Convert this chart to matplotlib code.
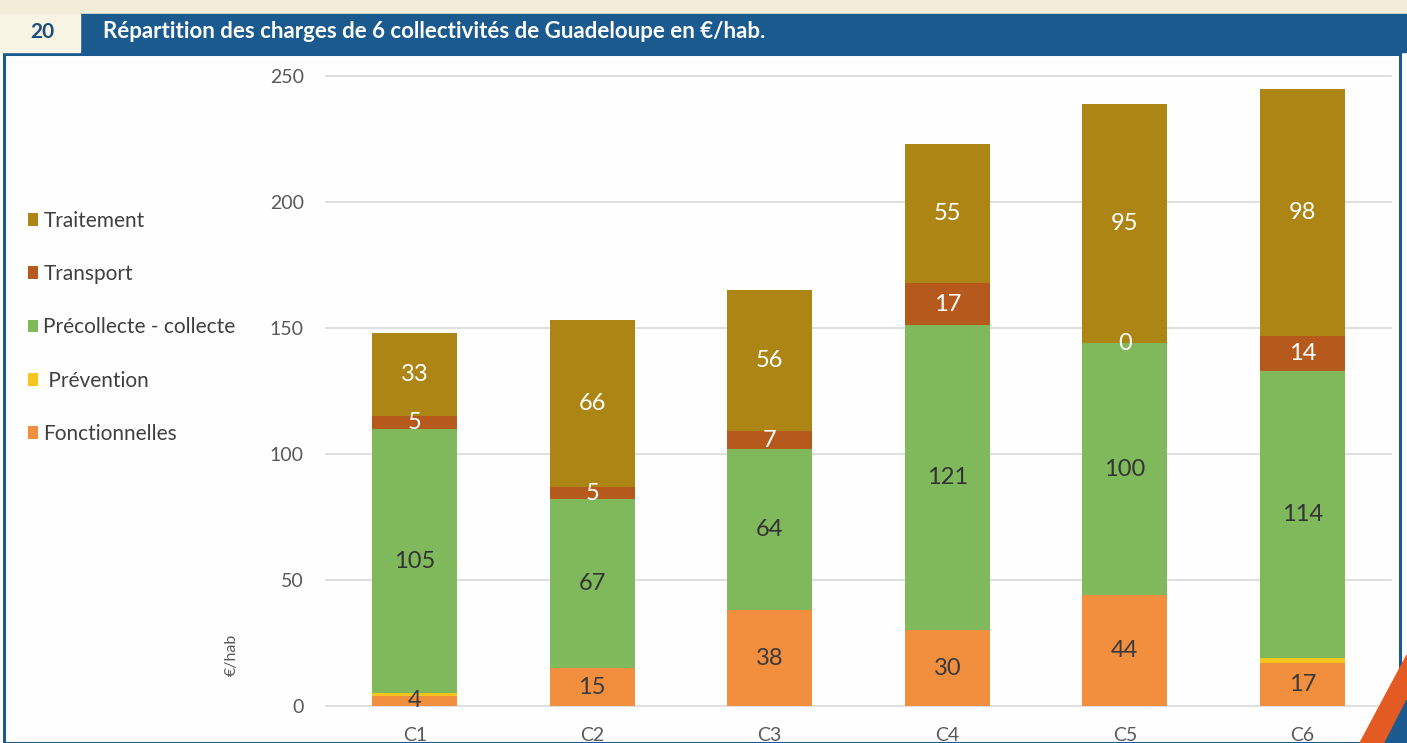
import numpy as np
import matplotlib
matplotlib.use("Agg")
import matplotlib.pyplot as plt
from matplotlib.patches import Rectangle, Polygon

# data (EUR per inhabitant)
categories = ["C1", "C2", "C3", "C4", "C5", "C6"]
fonctionnelles = [4, 15, 38, 30, 44, 17]
prevention = [1, 0, 0, 0, 0, 2]
precollecte = [105, 67, 64, 121, 100, 114]
transport = [5, 5, 7, 17, 0, 14]
traitement = [33, 66, 56, 55, 95, 98]

series_names = ["Fonctionnelles", " Prévention", "Précollecte - collecte", "Transport", "Traitement"]
series_colors = ["#F18F3F", "#F7C51C", "#80B85C", "#B55A1C", "#AD8515"]
label_colors = ["#3A3A3A", None, "#333333", "white", "white"]

W, H = 1407, 743
plt.rcParams["font.family"] = ["Lato", "DejaVu Sans"]

fig = plt.figure(figsize=(W / 100, H / 100), dpi=100)
fig.patch.set_facecolor("white")


def fx(px):
    return px / W


def fy(py):
    return 1 - py / H


# page decoration: cream strip, header band, frame
fig.patches.append(Rectangle((0, fy(52)), 1, 1 - fy(52), transform=fig.transFigure,
                             color="#F2EDD8", zorder=0))
fig.patches.append(Rectangle((fx(80), fy(52)), 1 - fx(80), fy(14) - fy(52),
                             transform=fig.transFigure, color="#1B5A8F", zorder=1))
fig.patches.append(Rectangle((0, fy(52)), fx(80), fy(14) - fy(52),
                             transform=fig.transFigure, color="#F8F4E4", zorder=1))
fig.patches.append(Rectangle((fx(4), 0), 1 - fx(11), fy(54), transform=fig.transFigure,
                             facecolor="#FEFEFE", edgecolor="#1B5A8F", lw=2.2, zorder=0))
fig.patches.append(Polygon([(fx(1360), 0), (fx(1407), fy(655)), (fx(1407), 0)],
                           closed=True, transform=fig.transFigure, color="#E35A22", zorder=3))
fig.patches.append(Polygon([(fx(1385), 0), (fx(1407), fy(700)), (fx(1407), 0)],
                           closed=True, transform=fig.transFigure, color="#1B5A8F", zorder=3))

fig.text(fx(42), fy(32), "20", color="#1B4F80", fontsize=15, fontweight="bold",
         ha="center", va="center")
fig.text(fx(103), fy(32), "Répartition des charges de 6 collectivités de Guadeloupe en €/hab.",
         color="white", fontsize=16, fontweight="bold", ha="left", va="center")

ax = fig.add_axes([fx(326), fy(706), fx(1391) - fx(326), fy(76) - fy(706)])
ax.set_facecolor("none")
ax.set_zorder(2)

x = np.arange(len(categories))
series = [fonctionnelles, prevention, precollecte, transport, traitement]
bottom = np.zeros(len(categories))
handles = []
for vals, name, col, lcol in zip(series, series_names, series_colors, label_colors):
    vals = np.array(vals, dtype=float)
    bars = ax.bar(x, vals, 0.48, bottom=bottom, color=col, label=name, zorder=3)
    handles.append(bars)
    if lcol is not None:
        for xi, b, v in zip(x, bottom, vals):
            ax.text(xi, b + v / 2, f"{int(v)}", color=lcol, fontsize=17,
                    ha="center", va="center", zorder=4)
    bottom += vals

ax.set_xlim(-0.5, 5.5)
ax.set_ylim(0, 250)
ax.set_yticks([0, 50, 100, 150, 200, 250])
ax.set_xticks(x)
ax.set_xticklabels(categories)
ax.yaxis.grid(True, color="#D9D9D9", lw=1.2, zorder=0)
ax.tick_params(axis="both", length=0, labelsize=14, labelcolor="#595959")
ax.tick_params(axis="y", pad=16)
ax.tick_params(axis="x", pad=15)
for s in ax.spines.values():
    s.set_visible(False)
for gl in ax.yaxis.get_gridlines():
    gl.set_clip_on(False)

fig.text(fx(232), fy(655), "€/hab", rotation=90, color="#595959", fontsize=11.5,
         ha="center", va="center")

leg = fig.legend(handles[::-1], series_names[::-1], loc="upper left",
                 bbox_to_anchor=(fx(9), fy(192)), frameon=False, fontsize=15,
                 handlelength=0.5, handleheight=0.55, handletextpad=0.25,
                 labelspacing=1.6, labelcolor="#404040")

fig.savefig("out.png", dpi=100, facecolor=fig.get_facecolor())
